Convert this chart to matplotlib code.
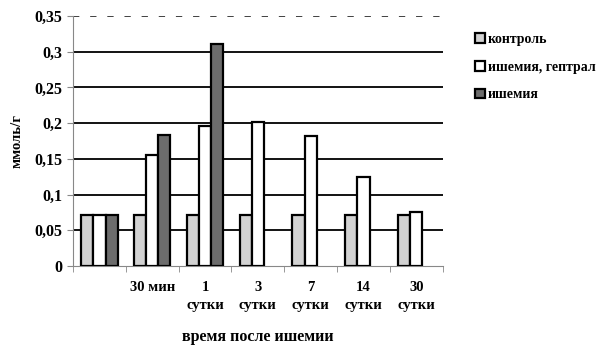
import numpy as np
import matplotlib
matplotlib.use("Agg")
import matplotlib.pyplot as plt
import matplotlib.ticker as mticker
from matplotlib.patches import Patch

plt.rcParams['font.family'] = ['Liberation Serif', 'DejaVu Serif']
plt.rcParams['font.weight'] = 'bold'

# группы по времени после ишемии
categories = ["", "30 мин", "1\nсутки", "3\nсутки", "7\nсутки", "14\nсутки", "30\nсутки"]
kontrol = [0.072, 0.072, 0.072, 0.072, 0.072, 0.072, 0.072]
ishemia_geptral = [0.072, 0.156, 0.196, 0.201, 0.182, 0.124, 0.076]
ishemia = [0.072, 0.183, 0.311, np.nan, np.nan, np.nan, np.nan]
series_names = ["контроль", "ишемия, гептрал", "ишемия"]
yticks = [0, 0.05, 0.1, 0.15, 0.2, 0.25, 0.3, 0.35]

colors = ["#d2d2d2", "#ffffff", "#6c6c6c"]

fig = plt.figure(figsize=(6.05, 3.45), dpi=100)
ax = fig.add_axes([0.1207, 0.229, 0.611, 0.7246])

# горизонтальные линии сетки, верхняя пунктиром
for v in yticks[1:]:
    if v == yticks[-1]:
        ax.axhline(v, color="#333333", lw=1.3, ls=(0, (3.5, 6)), zorder=0)
    else:
        ax.axhline(v, color="black", lw=1.3, zorder=0)

x = np.arange(len(categories))
w = 0.23
for i, (vals, c) in enumerate(zip([kontrol, ishemia_geptral, ishemia], colors)):
    ax.bar(x + (i - 1) * w, vals, width=w, color=c, edgecolor="black",
           linewidth=1.6, zorder=3)

ax.set_xlim(-0.5, len(categories) - 0.5)
ax.set_ylim(0, 0.35)
ax.set_yticks(yticks)
ax.yaxis.set_major_formatter(mticker.FuncFormatter(
    lambda v, p: ("%g" % v).replace(".", ",")))
ax.set_xticks(x)
ax.set_xticklabels(categories, fontsize=10.5, fontweight="bold", linespacing=1.5)
ax.xaxis.set_minor_locator(mticker.FixedLocator(np.arange(-0.5, len(categories), 1)))
ax.tick_params(axis="x", which="major", length=0, pad=11)
ax.tick_params(axis="x", which="minor", length=4, color="#888888")
ax.tick_params(axis="y", length=4, color="#888888", labelsize=11.5)
for lab in ax.get_yticklabels():
    lab.set_fontweight("bold")

for s in ["top", "right"]:
    ax.spines[s].set_visible(False)
ax.spines["left"].set_color("#888888")
ax.spines["bottom"].set_color("#888888")

ax.set_ylabel("ммоль/г", fontsize=10.5, fontweight="bold", labelpad=8)
ax.set_xlabel("время после ишемии", fontsize=11.5, fontweight="bold", labelpad=12)

handles = [Patch(facecolor=c, edgecolor="black", linewidth=1.6) for c in colors]
fig.legend(handles, series_names, loc="upper left", bbox_to_anchor=(0.765, 0.94),
           frameon=False, handlelength=0.7, handleheight=0.7,
           handletextpad=0.2, labelspacing=1.05,
           prop={"weight": "bold", "size": 10})

fig.savefig("out.png", dpi=100)
